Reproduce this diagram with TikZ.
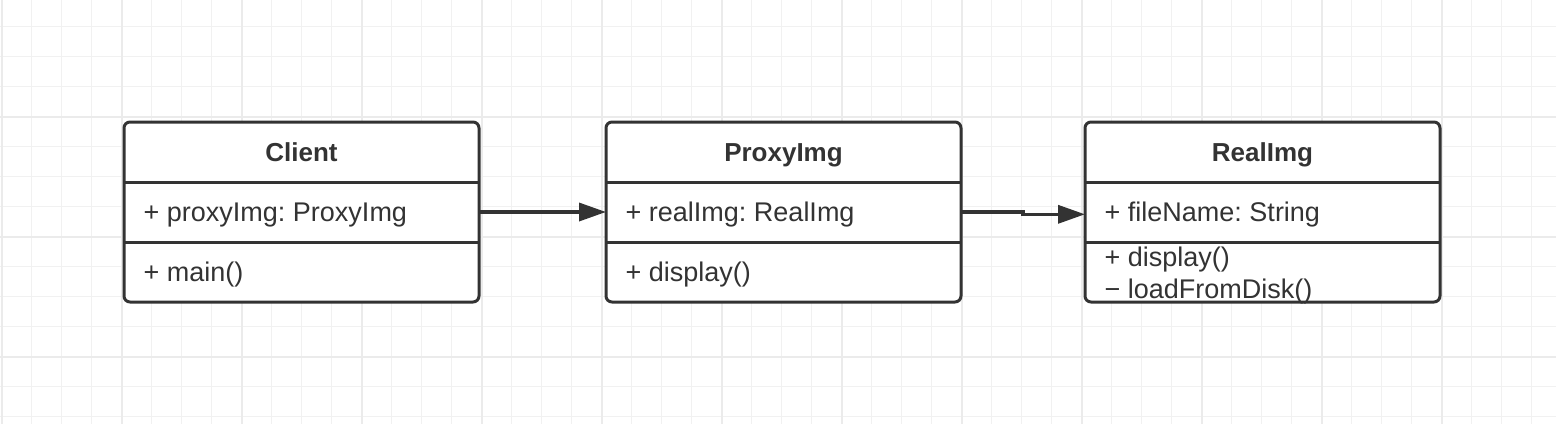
\documentclass[tikz,border=0pt]{standalone}
\usepackage{fontspec}
\setmainfont{Liberation Sans}
\usetikzlibrary{positioning,arrows.meta,calc}
\definecolor{cInk}{HTML}{333333}
\definecolor{cGrid}{HTML}{F1F1F1}
\definecolor{cGridB}{HTML}{EBEBEB}
\frenchspacing
\tikzset{
  clsbox/.style={draw=cInk, line width=3pt, rounded corners=6pt, fill=white,
                 minimum width=355pt, minimum height=180pt, inner sep=0pt, outer sep=0pt},
  sep/.style={cInk, line width=3pt},
  ttl/.style={font=\fontsize{26}{30}\selectfont\bfseries, text=cInk, anchor=base, inner sep=0pt},
  mem/.style={font=\fontsize{27}{31}\selectfont, text=cInk, anchor=base west, inner sep=0pt},
  arr/.style={-{Triangle[length=27pt,width=18pt]}, cInk, line width=3.5pt}
}

\begin{document}
\begin{tikzpicture}[x=1pt,y=-1pt]
\useasboundingbox (0,0) rectangle (1556,424);
% grid
\foreach \xx in {1.67,31.67,...,1531.67} \draw[cGrid, line width=1.6pt] (\xx,0) -- (\xx,424);
\foreach \yy in {26.67,56.67,...,416.67} \draw[cGrid, line width=1.6pt] (0,\yy) -- (1556,\yy);
\foreach \xx in {1.67,121.67,...,1441.67} \draw[cGridB, line width=1.8pt] (\xx,0) -- (\xx,424);
\foreach \yy in {116.67,236.67,356.67} \draw[cGridB, line width=1.8pt] (0,\yy) -- (1556,\yy);

% classes
\node[clsbox] (client) at (301.5,212) {};
\node[clsbox, right=127pt of client] (proxy) {};
\node[clsbox, right=124pt of proxy] (real) {};
\foreach \c in {client,proxy,real} {
  \draw[sep] ($(\c.north west)+(0,60)$) -- ($(\c.north east)+(0,60)$);
  \draw[sep] ($(\c.north west)+(0,120)$) -- ($(\c.north east)+(0,120)$);
}

\node[ttl] (clientT) at ($(client.north)+(0,39.7)$) {Client};
\node[mem] (clientA) at ($(client.north west)+(19.5,99.7)$) {+ proxyImg: ProxyImg};
\node[mem] (clientM) at ($(client.north west)+(19.5,159.7)$) {+ main()};

\node[ttl] (proxyT) at ($(proxy.north)+(0,39.7)$) {ProxyImg};
\node[mem] (proxyA) at ($(proxy.north west)+(19.5,99.7)$) {+ realImg: RealImg};
\node[mem] (proxyM) at ($(proxy.north west)+(19.5,159.7)$) {+ display()};

\node[ttl] (realT) at ($(real.north)+(0,39.7)$) {RealImg};
\node[mem] (realA) at ($(real.north west)+(19.5,99.7)$) {+ fileName: String};
\node[mem] (realM) at ($(real.north west)+(19.5,144.7)$) {+ display()};
\node[mem] (realN) at ($(real.north west)+(19.5,176)$) {− loadFromDisk()};

% associations
\draw[arr] (client.east) -- (proxy.west);
\draw[arr] (proxy.east) -- ++(62,0) |- ($(real.west)+(0,2.3)$);
\end{tikzpicture}
\end{document}
